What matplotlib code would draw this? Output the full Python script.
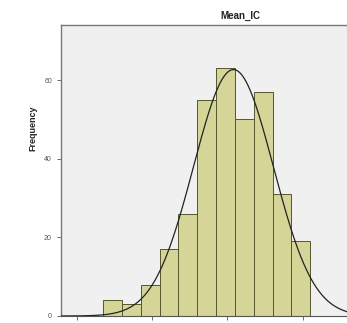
#!/usr/bin/env python3
"""Histogram of Mean_IC with a fitted normal curve (SPSS-style)."""

import numpy as np
import matplotlib
matplotlib.use("Agg")
import matplotlib.pyplot as plt

plt.rcParams["font.family"] = ["Liberation Sans", "DejaVu Sans"]

# ── data ──────────────────────────────────────────────────────────────────
bin_edges = [2.35, 2.60, 2.85, 3.10, 3.35, 3.60, 3.85, 4.10, 4.35, 4.60, 4.85, 5.10]
counts = [4, 3, 8, 17, 26, 55, 63, 50, 57, 31, 19]
x_ticks = [2.0, 3.0, 4.0, 5.0]
x_labels = ["2.00", "3.00", "4.00", "5.00"]
y_ticks = [0, 20, 40, 60]
curve_mean = 4.08
curve_sd = 0.53

W, H = 347, 323
fig = plt.figure(figsize=(W / 100, H / 100), dpi=100)
fig.patch.set_facecolor("white")

# axes box runs past the right and bottom of the image, like the crop
left, top, bottom = 61, 25, 316
right = 372
ax = fig.add_axes([left / W, (H - bottom) / H, (right - left) / W, (bottom - top) / H])
ax.set_facecolor("#F0F0F0")

widths = np.diff(bin_edges)
ax.bar(bin_edges[:-1], counts, width=widths, align="edge",
       color="#D4D596", edgecolor="#55552F", linewidth=0.7, zorder=2)

# normal curve scaled to counts
n = sum(counts)
bw = widths.mean()
xs = np.linspace(1.75, 6.0, 400)
ys = n * bw / (curve_sd * np.sqrt(2 * np.pi)) * np.exp(-0.5 * ((xs - curve_mean) / curve_sd) ** 2)
ax.plot(xs, ys, color="#222222", linewidth=0.9, zorder=3)

ax.set_xlim(1.79, 5.92)
ax.set_ylim(0, 74)
ax.set_xticks(x_ticks)
ax.set_xticklabels(x_labels)
ax.set_yticks(y_ticks)
ax.tick_params(labelsize=5, colors="#555555", length=3, width=0.6)

ax.spines["right"].set_visible(False)
for side in ("left", "top"):
    ax.spines[side].set_color("#777777")
    ax.spines[side].set_linewidth(1.0)
ax.spines["bottom"].set_color("#555555")
ax.spines["bottom"].set_linewidth(0.8)

fig.text(240 / W, 1 - 16 / H, "Mean_IC", ha="center", va="center",
         fontsize=7, fontweight="bold", color="#222222")
fig.text(33 / W, 1 - 128 / H, "Frequency", ha="center", va="center",
         rotation=90, fontsize=6.5, fontweight="bold", color="#222222")

fig.savefig("out.png", dpi=100)
